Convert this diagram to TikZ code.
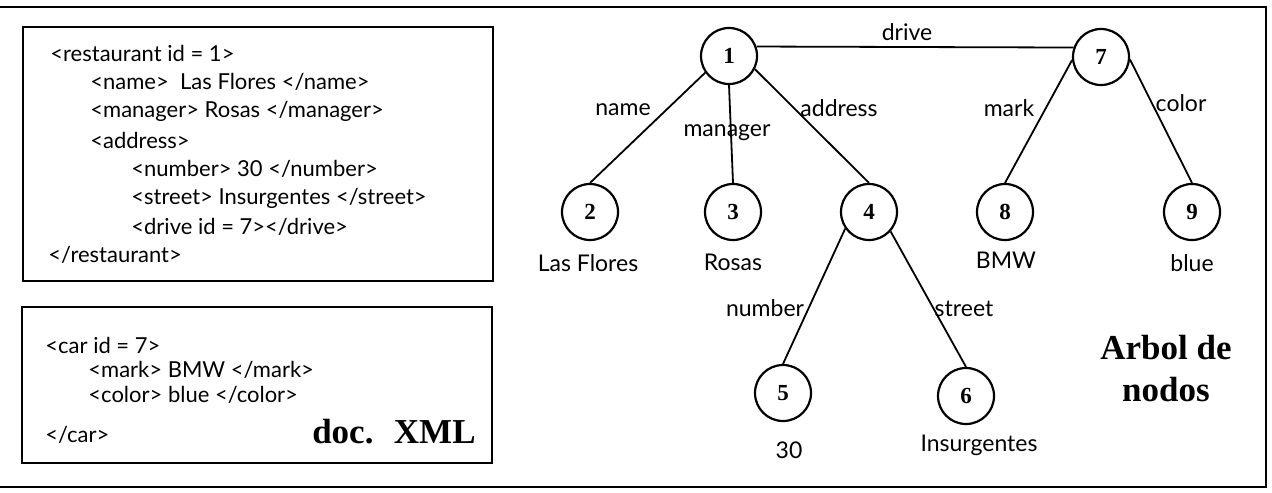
\documentclass[tikz,border=0pt]{standalone}
\usepackage{fontspec}
\setmainfont{Liberation Serif}
\newfontfamily\labfont{Lato}
\begin{document}
\begin{tikzpicture}[x=0.5pt,y=-0.5pt,
  txt/.style={font=\labfont\fontsize{11}{13}\selectfont, inner sep=0pt, anchor=west},
  lab/.style={font=\labfont\fontsize{11.5}{13}\selectfont, inner sep=0pt},
  nd/.style={circle, draw, line width=1.1pt, minimum size=28pt, inner sep=0pt, font=\bfseries\fontsize{11.5}{13}\selectfont},
  edge/.style={line width=0.9pt},
  xbox/.style={draw, line width=1.1pt},
  big/.style={font=\bfseries\fontsize{17.5}{21}\selectfont, inner sep=0pt, align=center}]
\useasboundingbox (0,0) rectangle (1272,492);
% outer frame
\draw[line width=1.4pt] (0,7) -- (1266,7) -- (1266,487) -- (0,487);
% XML boxes
\draw[xbox] (23,27) rectangle (493,281);
\draw[xbox] (22,307) rectangle (492,463);
\node[txt] (r1) at (50,53) {<restaurant id = 1>};
\node[txt] (r2) at (90,82) {<name>~ Las Flores </name>};
\node[txt] (r3) at (90,111) {<manager> Rosas </manager>};
\node[txt] (r4) at (90,140) {<address>};
\node[txt] (r5) at (131,169) {<number> 30 </number>};
\node[txt] (r6) at (131,198) {<street> Insurgentes </street>};
\node[txt] (r7) at (131,227) {<drive id = 7></drive>};
\node[txt] (r8) at (48,255) {</restaurant>};
\node[txt] (c1) at (45,345) {<car id = 7>};
\node[txt] (c2) at (88,370) {<mark> BMW </mark>};
\node[txt] (c3) at (88,395) {<color> blue </color>};
\node[txt] (c4) at (45,435) {</car>};
\node[big, anchor=east] (doc) at (476,432) {doc.~ XML};
% tree
\node[nd] (n1) at (729,56) {1};
\node[nd] (n2) at (590,212) {2};
\node[nd] (n3) at (733,212) {3};
\node[nd] (n4) at (869,212) {4};
\node[nd] (n5) at (783,393) {5};
\node[nd] (n6) at (966,396) {6};
\node[nd] (n7) at (1101,57) {7};
\node[nd] (n8) at (1005,212) {8};
\node[nd] (n9) at (1192,212) {9};
\draw[edge] (n1.19) -- (n7.161);
\draw[edge] (n1.215) -- (n2.north);
\draw[edge] (n1.south) -- (n3.north);
\draw[edge] (n1.-27) -- (n4.north);
\draw[edge] (n7.186) -- (n8.north);
\draw[edge] (n7.-5) -- (n9.north);
\draw[edge] (n4.215) -- (n5.north);
\draw[edge] (n4.-42) -- (n6.north);
% edge labels
\node[lab] (ldrive) at (907,32) {drive};
\node[lab] (lname) at (623,110) {name};
\node[lab] (lman) at (727,133) {manager};
\node[lab] (ladd) at (839,108) {address};
\node[lab] (lmark) at (1009,108) {mark};
\node[lab] (lcol) at (1181,103) {color};
\node[lab] (lnum) at (765,308) {number};
\node[lab] (lstr) at (964,309) {street};
% value labels
\node[lab] (v2) at (588,263) {Las Flores};
\node[lab] (v3) at (733,262) {Rosas};
\node[lab] (v8) at (1006,260) {BMW};
\node[lab] (v9) at (1192,263) {blue};
\node[lab] (v5) at (789,450) {30};
\node[lab] (v6) at (979,445) {Insurgentes};
\node[big] (arbol) at (1166,369) {Arbol de\\nodos};
\end{tikzpicture}
\end{document}
